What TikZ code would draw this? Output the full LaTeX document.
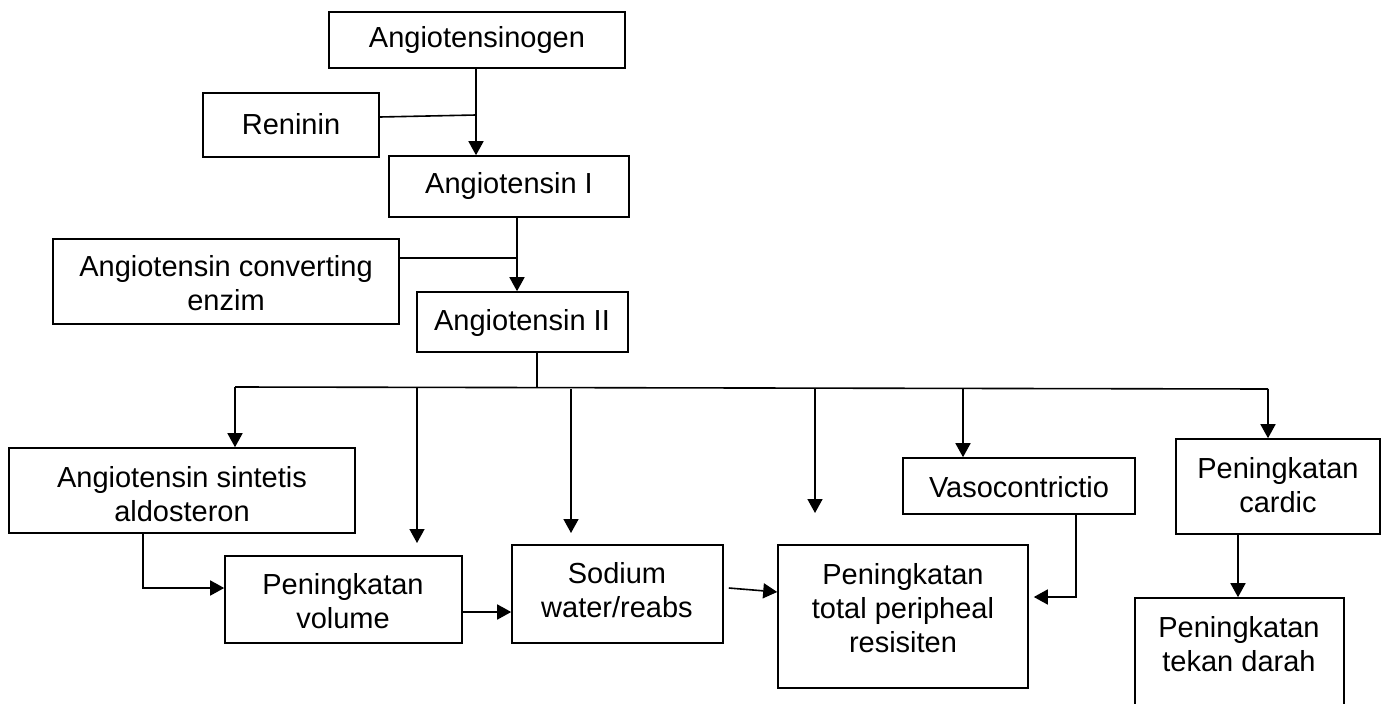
\documentclass[tikz,border=0pt]{standalone}
\usepackage{fontspec}
\setmainfont{Liberation Sans}
\usetikzlibrary{arrows.meta,fit,calc}

\begin{document}
\begin{tikzpicture}[x=1pt,y=-1pt,
  line width=1.6pt,
  box/.style={draw, inner sep=0pt, fit={#1}},
  txt/.style={align=center, inner sep=0pt, font=\fontsize{29}{34}\selectfont},
  arr/.style={-{Triangle[length=14pt,width=15pt]}}]
\useasboundingbox (0,0) rectangle (1385,704);

% boxes
\node[box={(329,12) (625,68)}] (ang0) {};
\node[txt] at (477,40) {Angiotensinogen};
\node[box={(203,93) (379,157)}] (ren) {};
\node[txt] at (291,124) {Reninin};
\node[box={(389,156) (629,217)}] (ang1) {};
\node[txt] at (509,186) {Angiotensin I};
\node[box={(53,239) (399,324)}] (ace) {};
\node[txt] at (226,283) {Angiotensin converting\\enzim};
\node[box={(417,292) (628,352)}] (ang2) {};
\node[txt] at (522,323) {Angiotensin II};

\node[box={(9,448) (355,533)}] (ald) {};
\node[txt] at (182,494) {Angiotensin sintetis\\aldosteron};
\node[box={(225,556) (462,643)}] (vol) {};
\node[txt] at (343,601) {Peningkatan\\volume};
\node[box={(512,545) (723,643)}] (sod) {};
\node[txt] at (617,590) {Sodium\\water/reabs};
\node[box={(778,545) (1028,688)}] (tpr) {};
\node[txt] at (903,608) {Peningkatan\\total peripheal\\resisiten};
\node[box={(903,458) (1135,514)}] (vaso) {};
\node[txt] at (1019,487) {Vasocontrictio};
\node[box={(1176,439) (1380,534)}] (card) {};
\node[txt] at (1278,485) {Peningkatan\\cardic};
\node[box={(1135,598) (1344,720)}] (tek) {};
\node[txt] at (1239,644) {Peningkatan\\tekan darah};

% junctions and free ends
\coordinate (j1) at (476,115);
\coordinate (j2) at (517,258);
\coordinate (stem) at (537,387);
\coordinate (busL) at (235,387);
\coordinate (busR) at (1268,389);
\coordinate (b2) at (417,387);
\coordinate (t2) at (417,543);
\coordinate (b3) at (571,389);
\coordinate (t3) at (571,533);
\coordinate (b4) at (815,388);
\coordinate (t4) at (815,513);
\coordinate (b5) at (963,388);
\coordinate (e1) at (143,588);
\coordinate (e2) at (1076,597);
\coordinate (e3) at (1238,566);

% upper chain
\draw[arr] (j1 |- ang0.south) -- (j1 |- ang1.north);
\draw ([yshift=8pt]ren.east) -- (j1);
\draw[arr] (j2 |- ang1.south) -- (j2 |- ang2.north);
\draw (ace.east |- j2) -- (j2);
\draw (stem |- ang2.south) -- (stem);

% distribution bus and branches
\draw (busL) -- (busR);
\draw[arr] (busL) -- (busL |- ald.north);
\draw[arr] (b2) -- (t2);
\draw[arr] (b3) -- (t3);
\draw[arr] (b4) -- (t4);
\draw[arr] (b5) -- (b5 |- vaso.north);
\draw[arr] (busR) -- (busR |- card.north);

% lower links
\draw[arr] (e1 |- ald.south) -- (e1) -- (e1 -| vol.west);
\draw[arr] ([yshift=-12.5pt]vol.east) -- ([yshift=-12.5pt]vol.east -| sod.west);
\draw[arr] ([xshift=5pt,yshift=6pt]sod.east) -- ([yshift=24.5pt]tpr.west);
\draw[arr] (e2 |- vaso.south) -- (e2) -- ($(e2 -| tpr.east)+(5,0)$);
\draw[arr] (e3 |- card.south) -- (e3 |- tek.north);
\end{tikzpicture}
\end{document}
